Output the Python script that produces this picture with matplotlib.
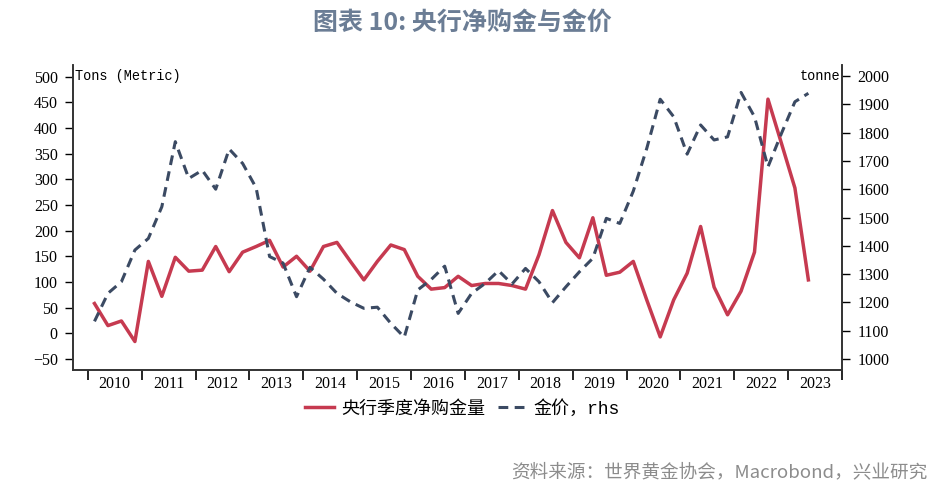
import pandas as pd
import matplotlib.pyplot as plt
from matplotlib.ticker import FixedLocator, NullFormatter

# -----------------------
# DATA
# -----------------------
quarters = pd.period_range("2010Q1", "2023Q2", freq="Q")

# central bank quarterly net purchases, tonnes (left axis)
cb_buying = [
    58, 15, 24, -16, 140, 72, 148, 121, 123, 169, 120, 158,
    169, 181, 129, 150, 121, 169, 177, 140, 104, 140, 172, 163,
    111, 86, 89, 111, 93, 97, 97, 93, 86, 153, 239, 177,
    147, 225, 113, 119, 140, 65, -7, 65, 117, 208, 90, 36,
    82, 158, 456, 370, 283, 104,
]

# gold price (right axis)
gold_price = [
    1133, 1232, 1273, 1385, 1426, 1538, 1768, 1638, 1667, 1600, 1742, 1691,
    1605, 1362, 1339, 1220, 1324, 1282, 1232, 1202, 1179, 1183, 1126, 1077,
    1244, 1281, 1328, 1161, 1232, 1267, 1312, 1265, 1320, 1273, 1199, 1255,
    1308, 1356, 1497, 1479, 1593, 1744, 1918, 1856, 1724, 1827, 1774, 1785,
    1942, 1856, 1679, 1797, 1909, 1939,
]

years = list(range(2010, 2024))
year_edges = list(range(2010, 2025))

x = [q.year + (q.quarter - 0.5) / 4 for q in quarters]

red = "#C63A50"
navy = "#3B4A63"
serif = "Liberation Serif"
mono = ["Liberation Mono", "Noto Sans CJK SC"]
cjk = ["Noto Sans CJK SC", "DejaVu Sans"]

# -----------------------
# PLOT
# -----------------------
fig = plt.figure(figsize=(9.4, 4.98), dpi=100)
ax = fig.add_axes([0.0777, 0.257, 0.8181, 0.6125])
ax2 = ax.twinx()

ax.plot(x, cb_buying, color=red, lw=2.5, label="央行季度净购金量", zorder=3)
ax2.plot(x, gold_price, color=navy, lw=2.2, linestyle=(0, (3.2, 2.1)),
         label="金价，rhs")

ax.set_xlim(2009.727, 2024.0)
ax.set_ylim(-71.5, 522.5)
ax2.set_ylim(961, 2039)

ax.set_yticks(range(-50, 501, 50))
ax2.set_yticks(range(1000, 2001, 100))

# year boundaries get tick marks, labels sit mid-year
ax.xaxis.set_major_locator(FixedLocator(year_edges))
ax.xaxis.set_major_formatter(NullFormatter())
ax.xaxis.set_minor_locator(FixedLocator([y + 0.5 for y in years]))
ax.set_xticklabels([str(y) for y in years], minor=True)
ax.tick_params(axis="x", which="major", length=7, width=1.2, direction="out")
ax.tick_params(axis="x", which="minor", length=0, pad=4)

ax.tick_params(axis="y", length=6, width=1, direction="out", pad=5)
ax2.tick_params(axis="y", length=6, width=1, direction="out", pad=5)

for lab in ax.get_xticklabels(minor=True) + ax.get_yticklabels() + ax2.get_yticklabels():
    lab.set_fontfamily(serif)
    lab.set_fontsize(11.5)

for a in (ax, ax2):
    a.spines["top"].set_visible(False)
    for s in ("left", "right", "bottom"):
        a.spines[s].set_color("#333333")
        a.spines[s].set_linewidth(1.2)

ax.text(0.002, 0.965, "Tons (Metric)", transform=ax.transAxes, ha="left",
        va="center", fontsize=9.8, family=mono)
ax2.text(0.998, 0.965, "tonne", transform=ax.transAxes, ha="right",
         va="center", fontsize=9.8, family=mono)

# legend
h1, l1 = ax.get_legend_handles_labels()
h2, l2 = ax2.get_legend_handles_labels()
fig.legend(h1 + h2, l1 + l2, loc="center",
           bbox_to_anchor=(0.492, 0.179), ncol=2, frameon=False,
           handlelength=1.6, columnspacing=0.7, handletextpad=0.4,
           prop={"family": mono, "size": 13})

fig.text(0.492, 0.955, "图表 10: 央行净购金与金价", ha="center", va="center",
         fontsize=18, fontweight="bold", color="#6B7D95", family=cjk)
fig.text(0.987, 0.052, "资料来源：世界黄金协会，Macrobond，兴业研究", ha="right",
         va="center", fontsize=13.4, color="#8C8C8C", family=cjk)

plt.savefig("out.png", dpi=100)
